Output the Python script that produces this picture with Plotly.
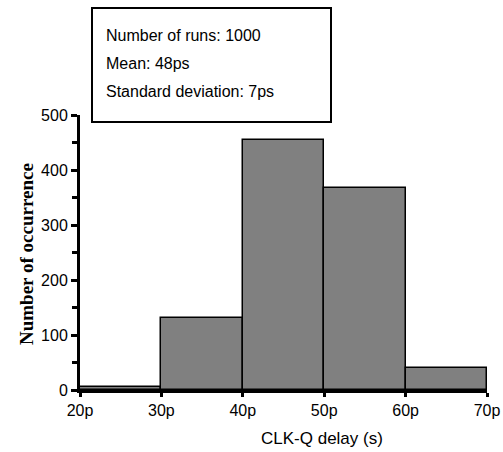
import plotly.graph_objects as go

bin_starts = [20, 30, 40, 50, 60]
counts = [6, 131, 455, 368, 40]
x_tick_vals = [20, 30, 40, 50, 60, 70]
x_tick_text = ["20p", "30p", "40p", "50p", "60p", "70p"]
y_tick_vals = [0, 100, 200, 300, 400, 500]
stats_lines = ["Number of runs: 1000", "Mean: 48ps", "Standard deviation: 7ps"]

centers = [s + 5 for s in bin_starts]
sans = "Liberation Sans, Arial, sans-serif"

fig = go.Figure()
fig.add_trace(go.Bar(
    x=centers, y=counts, width=[10] * len(counts),
    marker=dict(color="#808080", line=dict(color="black", width=1.5)),
    showlegend=False,
))

W, H = 503, 452
L, R, T, B = 80, 16, 115, 62
pw, ph = W - L - R, H - T - B

def px(xp):
    return (xp - L) / pw

def py(yp):
    return (H - B - yp) / ph

fig.update_layout(
    width=W, height=H,
    margin=dict(l=L, r=R, t=T, b=B, autoexpand=False),
    paper_bgcolor="white", plot_bgcolor="white",
    bargap=0,
    font=dict(family=sans, size=16, color="black"),
    xaxis=dict(
        range=[20, 70], tickvals=x_tick_vals, ticktext=x_tick_text,
        showgrid=False, zeroline=False, automargin=False,
        showline=True, linewidth=3, linecolor="black",
        ticks="outside", ticklen=4, tickwidth=3, tickcolor="black",
        tickfont=dict(family=sans, size=16),
    ),
    yaxis=dict(
        range=[0, 500], tickvals=y_tick_vals,
        showgrid=False, zeroline=False, automargin=False,
        showline=True, linewidth=3, linecolor="black",
        ticks="outside", ticklen=6, tickwidth=3, tickcolor="black",
        tickfont=dict(family=sans, size=16),
        minor=dict(dtick=50, ticks="outside", ticklen=5, tickwidth=3, tickcolor="black", showgrid=False),
    ),
)

fig.add_shape(type="rect", xref="paper", yref="paper",
              x0=px(92), x1=px(331), y0=py(122), y1=py(8),
              line=dict(color="black", width=2), fillcolor="white")

for txt, yy in zip(stats_lines, [36, 64, 91]):
    fig.add_annotation(text=txt, xref="paper", yref="paper", x=px(104), y=py(yy),
                       xanchor="left", yanchor="middle", showarrow=False,
                       font=dict(family=sans, size=16))

fig.add_annotation(text="<b>Number of occurrence</b>", xref="paper", yref="paper",
                   x=px(27), y=py(254), textangle=-90, showarrow=False,
                   xanchor="center", yanchor="middle",
                   font=dict(family="Liberation Serif, Times New Roman, serif", size=19, color="black"))

fig.add_annotation(text="CLK-Q delay (s)", xref="paper", yref="paper",
                   x=px(322), y=py(438), showarrow=False,
                   xanchor="center", yanchor="middle",
                   font=dict(family=sans, size=17))

fig.write_html("out.html")
